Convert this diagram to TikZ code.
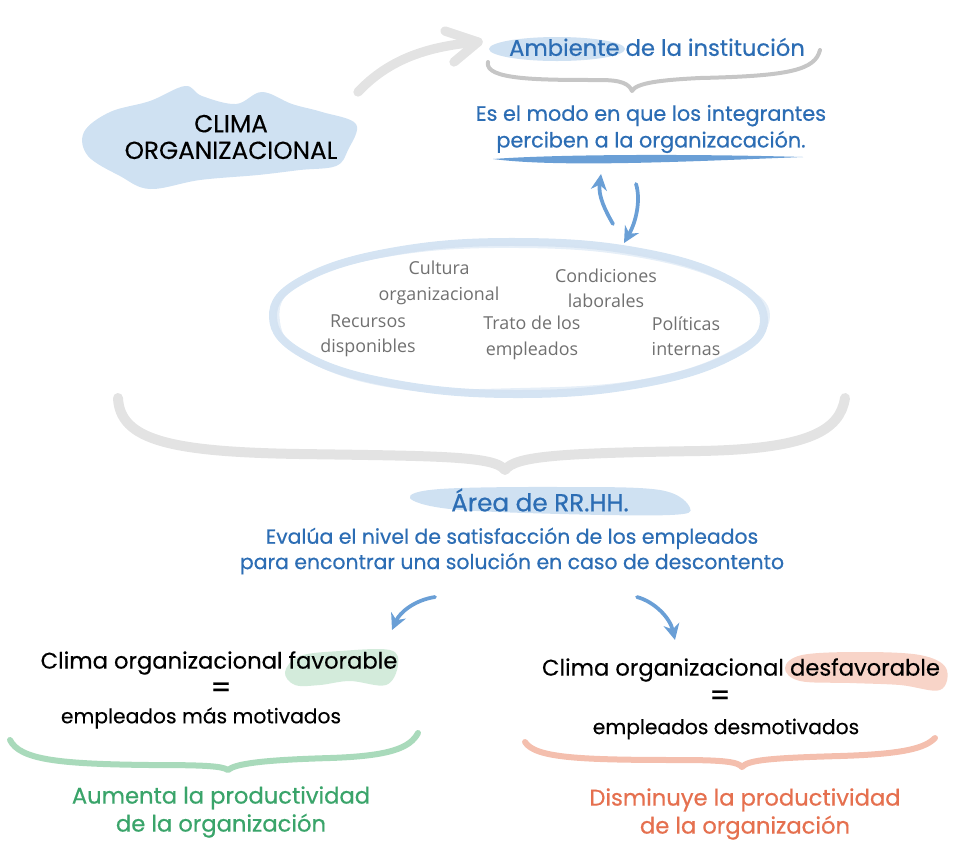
\documentclass[tikz,border=0pt]{standalone}
\usepackage{fontspec}
\setmainfont{Poppins}
\newfontfamily\medfont{Poppins}[FakeBold=0.6]
\newfontfamily\bookfont{Poppins}[FakeBold=0.3]
\newfontfamily\hand{Open Sans}
\usetikzlibrary{arrows.meta}
\definecolor{tblue}{HTML}{2C6DB4}
\definecolor{lblue}{HTML}{CFE1F2}
\definecolor{ablue}{HTML}{6A9FD6}
\definecolor{eblue}{HTML}{CADDF0}
\definecolor{gbrace}{HTML}{E3E3E3}
\definecolor{gbrace2}{HTML}{C6C6C6}
\definecolor{handgray}{HTML}{707070}
\definecolor{tgreen}{HTML}{3AA46A}
\definecolor{lgreen}{HTML}{D3EBDB}
\definecolor{bgreen}{HTML}{A9DABB}
\definecolor{tsalmon}{HTML}{E5704F}
\definecolor{lsalmon}{HTML}{F8D4C8}
\definecolor{bsalmon}{HTML}{F4BFAE}
\tikzset{
  bluetitle/.style={text=tblue, font=\medfont\fontsize{17}{20}\selectfont, inner sep=0pt},
  bluetext/.style={text=tblue, font=\medfont\fontsize{15.6}{20}\selectfont, align=center, inner sep=0pt},
  handtext/.style={text=handgray, font=\hand\fontsize{13.4}{19}\selectfont, align=center, inner sep=0pt},
  blacktext/.style={text=black, font=\bookfont\fontsize{17}{20}\selectfont, align=center, inner sep=0pt},
  smalltext/.style={text=black, font=\bookfont\fontsize{15.2}{18}\selectfont, align=center, inner sep=0pt},
  resulttext/.style={font=\medfont\fontsize{17}{21}\selectfont, align=center, inner sep=0pt},
  bluearrow/.style={draw=ablue, line width=2.8pt, line cap=round, -{Stealth[length=12pt,width=12pt]}},
  brace/.style={line width=#1, line cap=round, line join=round},
}
\begin{document}
\begin{tikzpicture}[x=0.75pt,y=-0.75pt]
\useasboundingbox (0,0) rectangle (967,858);

% ---- background blobs ----
\fill[lblue] plot[smooth cycle, tension=0.6] coordinates {(84,132) (110,112) (150,101) (185,86) (202,96) (236,104) (262,92) (292,104) (322,112) (356,124) (348,150) (336,166) (300,170) (258,175) (200,180) (150,189) (120,176) (88,156)};
\fill[lblue] (557,49) ellipse [x radius=68, y radius=12];
\fill[lblue] plot[smooth cycle, tension=0.6] coordinates {(410,498) (440,489) (560,487) (660,490) (690,508) (670,515) (560,514) (450,509)};
\fill[lgreen] plot[smooth cycle, tension=0.6] coordinates {(285,672) (300,656) (340,651) (390,650) (398,665) (386,685) (350,681) (320,685) (295,685)};
\fill[lsalmon] plot[smooth cycle, tension=0.6] coordinates {(785,668) (802,655) (860,652) (920,655) (946,668) (940,690) (900,685) (850,683) (800,681)};

% ---- main texts ----
\node[blacktext, font=\bookfont\fontsize{18.5}{20}\selectfont] (clima) at (231,137) {CLIMA\\ORGANIZACIONAL};
\node[bluetitle] (amb) at (657,47) {Ambiente de la institución};
\node[bluetext] (modo) at (651,129) {Es el modo en que los integrantes\\perciben a la organizacación.};

% gray arrow from clima to ambiente
\coordinate (ga1) at (358,92);
\coordinate (ga2) at (478,42);
\draw[gbrace, line width=7pt, line cap=round] (ga1) .. controls (390,58) and (430,46) .. (ga2);
\draw[gbrace, line width=7pt, line cap=round, line join=round] (445,31) -- (ga2) -- (454,62);

% gray brace under ambiente
\draw[gbrace2, brace=3pt] (488,62) .. controls (484,80) and (540,80) .. (600,80) .. controls (622,80) and (629,84) .. (632,91) .. controls (636,83) and (660,80) .. (700,78) .. controls (790,76) and (815,70) .. (820,50);

% blue underline
\fill[ablue] (493,159) .. controls (560,154) and (700,154) .. (803,157) .. controls (700,161) and (560,168) .. (493,159) -- cycle;

% up / down arrows
\coordinate (upA) at (613,224);
\coordinate (upB) at (601,174);
\coordinate (dnA) at (636,184);
\coordinate (dnB) at (624,243);
\draw[bluearrow] (upA) .. controls (605,210) and (598,196) .. (upB);
\draw[bluearrow] (dnA) .. controls (641,200) and (636,222) .. (dnB);

% hand-drawn ellipse
\draw[eblue, line width=6pt, opacity=0.8] plot[smooth cycle, tension=0.7] coordinates {(764,320) (731,281) (640,252) (518,242) (396,251) (304,279) (273,317) (306,356) (396,384) (518,394) (640,384) (731,356)};
\draw[eblue!80!white, line width=3pt, opacity=0.6] plot[smooth cycle, tension=0.7] coordinates {(768,316) (734,284) (642,256) (520,246) (392,254) (300,282) (278,322) (310,360) (400,387) (520,390) (644,381) (733,352)};

\node[handtext] (cult) at (439,283) {Cultura\\organizacional};
\node[handtext] (cond) at (606,288) {Condiciones\\laborales};
\node[handtext] (recu) at (368,336) {Recursos\\disponibles};
\node[handtext] (trat) at (532,338) {Trato de los\\empleados};
\node[handtext] (poli) at (686,336) {Políticas\\internas};

% big gray brace
\draw[gbrace, brace=7.5pt] (118,398) .. controls (120,440) and (170,452) .. (300,454) .. controls (440,456) and (495,456) .. (505,470) .. controls (515,456) and (560,453) .. (700,451) .. controls (810,449) and (840,430) .. (845,398);

\node[bluetitle, font=\medfont\fontsize{18.5}{20}\selectfont] (rrhh) at (540,500) {Área de RR.HH.};
\node[bluetext, font=\medfont\fontsize{15.3}{19}\selectfont] (eval) at (512,551) {Evalúa el nivel de satisfacción de los empleados\\para encontrar una solución en caso de descontento};

% lower arrows
\coordinate (laA) at (435,597);
\coordinate (laB) at (392,630);
\coordinate (raA) at (637,597);
\coordinate (raB) at (675,640);
\draw[bluearrow] (laA) .. controls (415,600) and (400,612) .. (laB);
\draw[bluearrow] (raA) .. controls (655,602) and (670,618) .. (raB);

% left branch
\node[blacktext] (fav) at (219,663) {Clima organizacional favorable};
\node[blacktext, font=\medfont\fontsize{22}{20}\selectfont] (eq1) at (221,690) {=};
\node[smalltext] (mot) at (201,718) {empleados más motivados};
\draw[bgreen, brace=4.5pt] (10,740) .. controls (20,760) and (60,764) .. (150,765) .. controls (205,765) and (222,766) .. (228,770) .. controls (235,764) and (260,760) .. (330,758) .. controls (390,756) and (410,748) .. (418,733);
\node[resulttext, text=tgreen] (aum) at (221,812) {Aumenta la productividad\\de la organización};

% right branch
\node[blacktext] (desf) at (741,670) {Clima organizacional desfavorable};
\node[blacktext, font=\medfont\fontsize{22}{20}\selectfont] (eq2) at (720,698) {=};
\node[smalltext] (desm) at (726,729) {empleados desmotivados};
\draw[bsalmon, brace=4.5pt] (525,742) .. controls (535,758) and (580,760) .. (680,760) .. controls (725,760) and (738,762) .. (742,767) .. controls (748,760) and (770,758) .. (840,756) .. controls (905,754) and (925,748) .. (935,738);
\node[resulttext, text=tsalmon] (dism) at (745,814) {Disminuye la productividad\\de la organización};
\end{tikzpicture}
\end{document}
